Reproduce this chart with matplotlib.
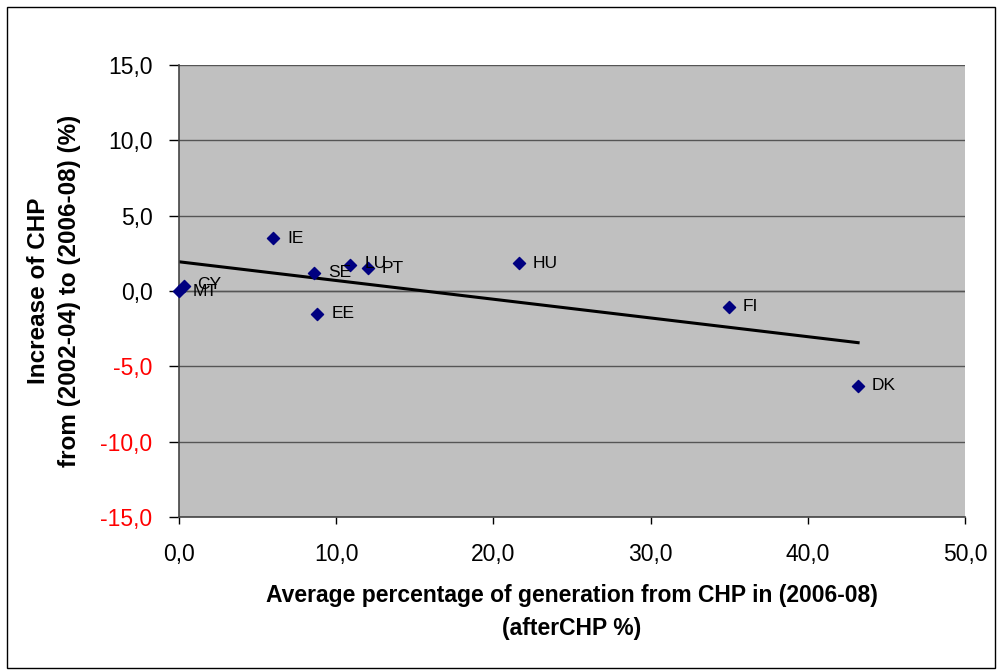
import numpy as np
import matplotlib.pyplot as plt
from matplotlib.patches import Rectangle

countries = ['MT', 'CY', 'IE', 'SE', 'EE', 'LU', 'PT', 'HU', 'FI', 'DK']
after_chp = [0.0, 0.3, 6.0, 8.6, 8.8, 10.9, 12.0, 21.6, 35.0, 43.2]
increase = [0.0, 0.3, 3.5, 1.2, -1.5, 1.7, 1.5, 1.85, -1.05, -6.3]

plt.rcParams['font.family'] = ['Liberation Sans', 'DejaVu Sans']

fig = plt.figure(figsize=(10, 6.71), dpi=100)
fig.patches.append(Rectangle((0.007, 0.005), 0.988, 0.985, transform=fig.transFigure,
                             fill=False, edgecolor='black', linewidth=1.0))
ax = fig.add_axes([0.179, 1 - 517 / 671, 0.786, 452 / 671])
ax.set_facecolor('#c0c0c0')

ax.set_xlim(0, 50)
ax.set_ylim(-15, 15)
xt = np.arange(0, 51, 10)
yt = np.arange(-15, 16, 5)
ax.set_xticks(xt)
ax.set_yticks(yt)
ax.set_xticklabels([('%.1f' % v).replace('.', ',') for v in xt], fontsize=16.5)
ax.set_yticklabels([('%.1f' % v).replace('.', ',') for v in yt], fontsize=16.5)
for lab, v in zip(ax.get_yticklabels(), yt):
    if v < 0:
        lab.set_color('red')
ax.tick_params(axis='y', direction='out', length=7, width=1, pad=12)
ax.tick_params(axis='x', direction='out', length=5, width=1, pad=14)
ax.grid(axis='y', color='#555555', linewidth=1)
ax.set_axisbelow(True)
for s in ['top', 'right']:
    ax.spines[s].set_visible(False)
for s in ['left', 'bottom']:
    ax.spines[s].set_color('#444444')
    ax.spines[s].set_linewidth(1.2)

ax.axhline(0, color='#555555', linewidth=1, zorder=1)

x = np.array(after_chp)
y = np.array(increase)
k, b = np.polyfit(x, y, 1)
xs = np.array([0, x.max()])
ax.plot(xs, k * xs + b, color='black', linewidth=2.2, zorder=2)

ax.scatter(x, y, marker='D', s=38, color='#000080', zorder=3, clip_on=False)
for name, xi, yi in zip(countries, after_chp, increase):
    up = 1.5 if name in ('LU', 'CY') else 0
    ax.annotate(name, (xi, yi), xytext=(10, up), textcoords='offset points',
                fontsize=12.5, va='center', ha='left', zorder=4)

ax.set_xlabel('Average percentage of generation from CHP in (2006-08)\n(afterCHP %)',
              fontsize=16.5, fontweight='bold', linespacing=1.55)
ax.xaxis.set_label_coords(0.5, -0.149, transform=ax.transAxes)
ax.xaxis.label.set_va('top')
ax.set_ylabel('Increase of CHP\nfrom (2002-04) to (2006-08) (%)',
              fontsize=17.5, fontweight='bold', linespacing=1.45)
ax.yaxis.set_label_coords(-0.159, 0.5, transform=ax.transAxes)
ax.yaxis.label.set_va('center')

fig.savefig('out.png', dpi=100)
